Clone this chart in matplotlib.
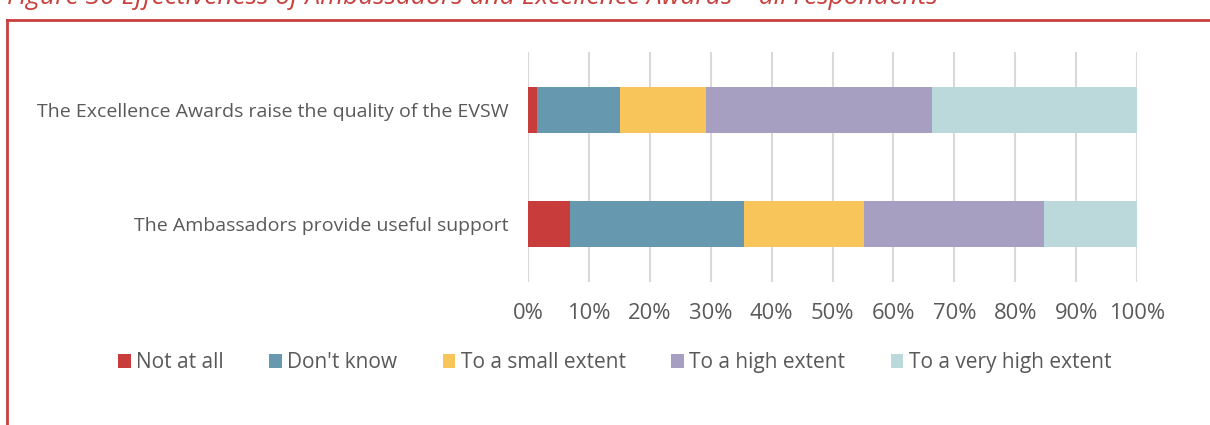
import matplotlib.pyplot as plt
from matplotlib.lines import Line2D
import numpy as np

plt.rcParams["font.family"] = ["Open Sans", "DejaVu Sans"]

statements = [
    "The Ambassadors provide useful support",
    "The Excellence Awards raise the quality of the EVSW",
]
responses = [
    "Not at all",
    "Don't know",
    "To a small extent",
    "To a high extent",
    "To a very high extent",
]
# shares in percent, one list per response, ordered like `statements`
not_at_all = [6.9, 1.5]
dont_know = [28.6, 13.6]
small_extent = [19.7, 14.1]
high_extent = [29.5, 37.2]
very_high_extent = [15.3, 33.6]
tick_values = [0, 10, 20, 30, 40, 50, 60, 70, 80, 90, 100]

colors = ["#C83D3B", "#6699B0", "#F7C55A", "#A69FC2", "#BBD9DB"]
TEXT = "#595959"
FRAME = "#C8403D"

fig = plt.figure(figsize=(12.1, 4.25), dpi=100)
ax = fig.add_axes([0.4364, 0.3365, 0.5033, 0.5411])

y = np.arange(len(statements))
left = np.zeros(len(statements))
for name, vals, col in zip(responses,
                           [not_at_all, dont_know, small_extent, high_extent, very_high_extent],
                           colors):
    ax.barh(y, vals, left=left, height=0.4, color=col, label=name, zorder=3)
    left += np.array(vals)

ax.set_xlim(0, 100)
ax.set_ylim(-0.5, 1.5)
ax.set_xticks(tick_values)
ax.set_xticklabels([f"{v}%" for v in tick_values], fontsize=15.8, color=TEXT)
ax.set_yticks(y)
ax.set_yticklabels(statements, fontsize=14, color=TEXT)
ax.tick_params(axis="both", length=0)
ax.tick_params(axis="x", pad=15)
ax.tick_params(axis="y", pad=14)
ax.grid(axis="x", color="#D9D9D9", linewidth=1.5, zorder=0)
for s in ax.spines.values():
    s.set_visible(False)

ax.legend(
    loc="center",
    bbox_to_anchor=(0.508, 0.146),
    bbox_transform=fig.transFigure,
    ncol=5,
    frameon=False,
    fontsize=15,
    handlelength=0.6,
    handleheight=0.6,
    handletextpad=0.25,
    columnspacing=2.2,
    labelcolor=TEXT,
)

# page frame and caption running off the top edge
fig.add_artist(Line2D([7 / 1210, 1.0], [1 - 19.5 / 425] * 2, color=FRAME, linewidth=2))
fig.add_artist(Line2D([7 / 1210] * 2, [0, 1 - 19.5 / 425], color=FRAME, linewidth=2))
fig.text(
    7 / 1210, 1 - 4 / 425,
    "Figure 30 Effectiveness of Ambassadors and Excellence Awards \u2013 all respondents",
    color=FRAME, fontsize=19, style="italic", ha="left", va="baseline",
)

fig.savefig("out.png", dpi=100)
